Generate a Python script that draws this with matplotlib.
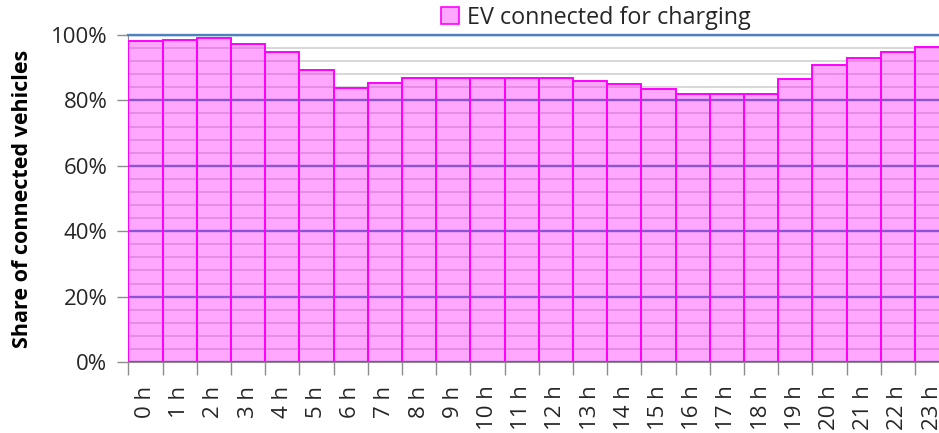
import numpy as np
import matplotlib
matplotlib.use("Agg")
from matplotlib import pyplot as plt
from matplotlib.patches import Patch
from matplotlib.ticker import MultipleLocator, PercentFormatter

# hourly share of EVs plugged in (%)
hours = [f"{h} h" for h in range(24)]
share = [98.1, 98.5, 99.2, 97.2, 94.9, 89.4, 83.9, 85.4, 86.9, 86.9, 86.9, 86.9,
         86.9, 85.9, 85.0, 83.5, 81.9, 81.9, 81.9, 86.6, 90.9, 92.9, 94.9, 96.4]
legend_label = "EV connected for charging"

plt.rcParams['font.family'] = ['Open Sans', 'DejaVu Sans']

fig = plt.figure(figsize=(9.39, 4.33), dpi=100)
ax = fig.add_axes([128.3 / 939, 1 - 362 / 433, 821 / 939, 327 / 433])

x = np.arange(len(share))
ax.bar(x, share, width=1.0, align='edge', color=(1, 0, 1, 0.35),
       edgecolor='#ff00ff', linewidth=1.4, zorder=3)

ax.set_xlim(0, 24)
ax.set_ylim(0, 100)
ax.yaxis.set_major_locator(MultipleLocator(20))
ax.yaxis.set_minor_locator(MultipleLocator(4))
ax.yaxis.set_major_formatter(PercentFormatter(decimals=0))
ax.grid(which='minor', axis='y', color='#d4d4d4', linewidth=1.3, zorder=0)
ax.grid(which='major', axis='y', color='#4f81bd', linewidth=1.7, zorder=1)
ax.tick_params(axis='y', which='minor', length=0)

# ticks at bar boundaries, labels centred under bars
ax.set_xticks(np.arange(25))
ax.set_xticklabels([])
ax.set_xticks(x + 0.5, minor=True)
ax.set_xticklabels(hours, minor=True, rotation=90, fontsize=16,
                   color='#262626')
ax.tick_params(axis='x', which='minor', length=0, pad=17)
ax.tick_params(axis='x', which='major', length=9, color='#8c8c8c', width=1)
ax.tick_params(axis='y', which='major', length=8, color='#8c8c8c', width=1,
               labelsize=16, labelcolor='#262626', pad=7)

ax.spines['right'].set_visible(False)
ax.spines['top'].set_color('#4f81bd')
ax.spines['top'].set_linewidth(1.7)
ax.spines['left'].set_color('#8c8c8c')
ax.spines['bottom'].set_color('#8c8c8c')

ax.set_ylabel("Share of connected vehicles", fontsize=15.5, fontweight='bold',
              labelpad=13)

handle = Patch(facecolor=(1, 0, 1, 0.35), edgecolor='#ff00ff', linewidth=1.2)
fig.legend([handle], [legend_label], loc='upper left',
           bbox_to_anchor=(420 / 939, 1.035), frameon=False, fontsize=16.8,
           handlelength=0.75, handleheight=0.75, handletextpad=0.35,
           labelcolor='#262626')

fig.savefig("out.png", dpi=100)
